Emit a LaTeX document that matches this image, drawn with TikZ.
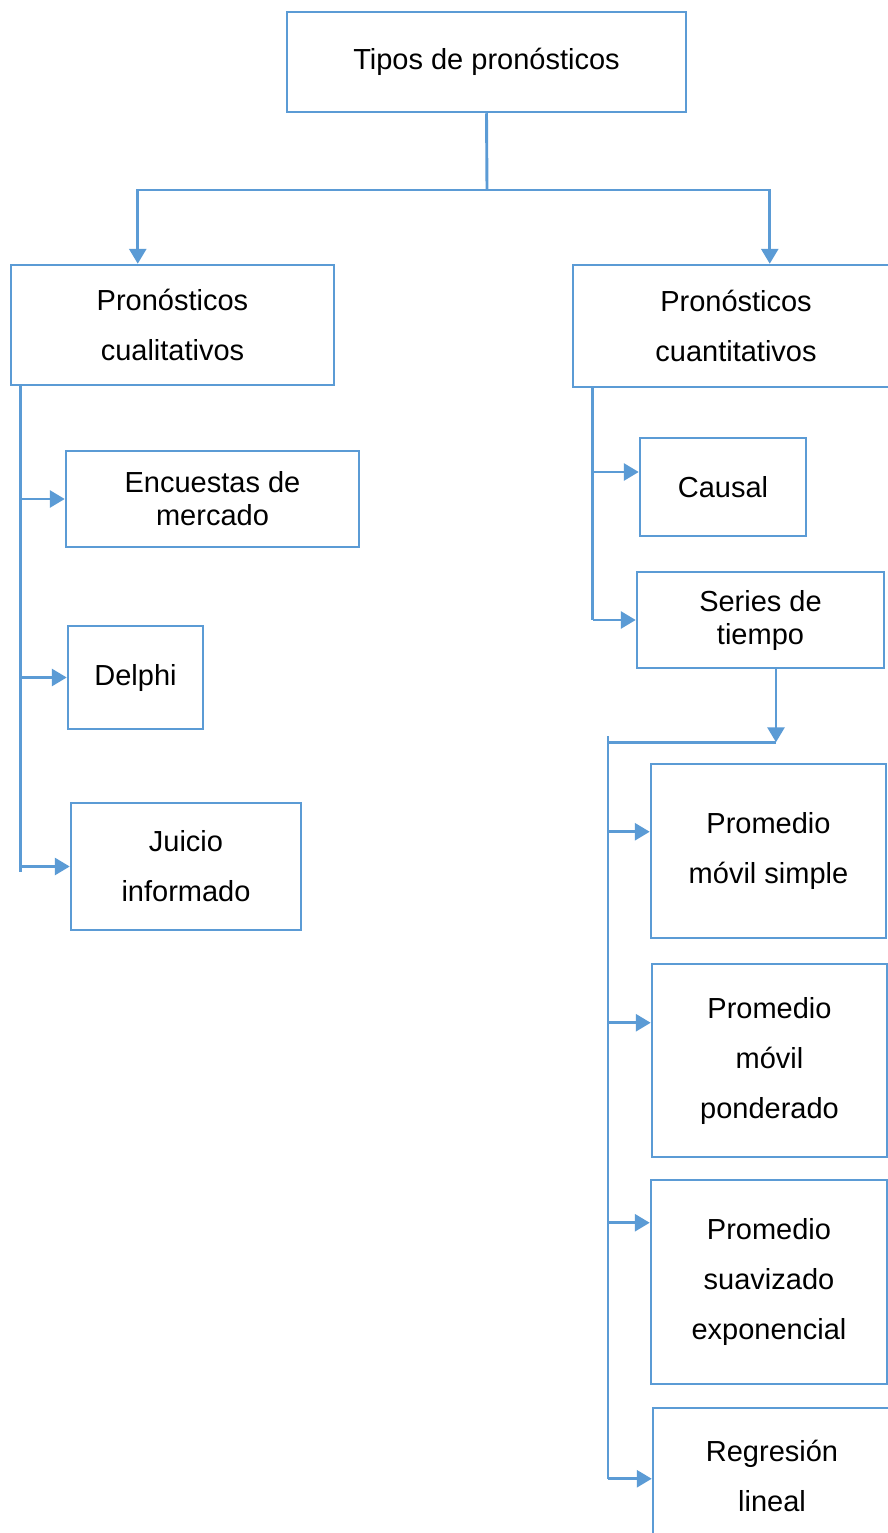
\documentclass[tikz,border=0pt]{standalone}
\usepackage{fontspec}
\setmainfont{Liberation Sans}
\usepackage{xcolor}
\usetikzlibrary{
    arrows.meta,
    positioning,
    calc
}
\definecolor{lineblue}{HTML}{5B9BD5}
\tikzset{
    % Box style
    box/.style={
        rectangle,
        draw=lineblue,
        fill=white,
        line width=2.5pt,
        inner sep=0pt,
        align=center,
        font=\fontsize{29}{50}\selectfont
    },
    % Tight two-line box
    tightbox/.style={
        box,
        font=\fontsize{29}{33}\selectfont
    },
    % Connector styles
    link/.style={
        draw=lineblue,
        line width=2.9pt
    },
    flow/.style={
        link,
        -{Triangle[length=15pt, width=17pt]}
    }
}
\begin{document}
\begin{tikzpicture}[x=1pt, y=-1pt]

        \useasboundingbox (0,0) rectangle (888,1533);
        \fill[white] (0,0) rectangle (888,1533);
        \clip (0,0) rectangle (888,1533);

        % Root
        \node[box, minimum width=399pt, minimum height=100pt] (tipos) at (486.5, 62) {Tipos de pronósticos};

        % Main branches
        \node[box, minimum width=323pt, minimum height=120pt] (cuali) at (172.5, 325) {Pronósticos\\cualitativos};
        \node[box, minimum width=326pt, minimum height=122pt] (cuanti) at (736, 326) {Pronósticos\\cuantitativos};

        % Qualitative methods
        \node[tightbox, minimum width=293pt, minimum height=96pt] (encuestas) at (212.5, 499) {Encuestas de\\mercado};
        \node[box, minimum width=135pt, minimum height=103pt] (delphi) at (135.5, 677.5) {Delphi};
        \node[box, minimum width=230pt, minimum height=127pt] (juicio) at (186, 866.5) {Juicio\\informado};

        % Quantitative methods
        \node[box, minimum width=166pt, minimum height=98pt] (causal) at (723, 487) {Causal};
        \node[tightbox, minimum width=247pt, minimum height=96pt] (series) at (760.5, 620) {Series de\\tiempo};

        % Time series methods
        \node[box, minimum width=235pt, minimum height=174pt] (simple) at (768.5, 851) {Promedio\\móvil simple};
        \node[box, minimum width=235pt, minimum height=193pt] (ponderado) at (769.5, 1060.5) {Promedio\\móvil\\ponderado};
        \node[box, minimum width=236pt, minimum height=204pt] (suavizado) at (769, 1282) {Promedio\\suavizado\\exponencial};
        \node[box, minimum width=238pt, minimum height=136pt] (regresion) at (772, 1476) {Regresión\\lineal};

        % Connections from root
        \coordinate (split) at (487, 190);
        \draw[link] (tipos.south) -- (split);
        \draw[flow] (split) -| ($(cuali.north west)+(128,0)$);
        \draw[flow] (split) -| ($(cuanti.north west)+(198,0)$);

        % Qualitative spine
        \coordinate (spineL) at ($(cuali.south west)+(11,0)$);
        \draw[link] (spineL) -- (spineL |- juicio.west) -- ++(0,5);
        \foreach \n in {encuestas, delphi, juicio} {
            \draw[flow] (spineL |- \n.west) -- (\n.west);
        }

        % Quantitative spine
        \coordinate (spineR) at ($(cuanti.south west)+(21,0)$);
        \coordinate (tcausal) at ($(causal.west)+(0,-15)$);
        \draw[link] (spineR) -- (spineR |- series.west);
        \draw[flow] (spineR |- tcausal) -- (tcausal);
        \draw[flow] (spineR |- series.west) -- (series.west);

        % Time series spine
        \coordinate (tsplit) at ($(series.south)+(15.5,73)$);
        \coordinate (spineS) at (608, 736);
        \draw[flow] ($(series.south)+(15.5,0)$) -- (tsplit);
        \draw[link] (tsplit) -- (spineS |- tsplit);
        \foreach \n/\d in {simple/69, ponderado/60, suavizado/44, regresion/72} {
            \path ($(\n.north west)+(0,\d)$) coordinate (t\n);
            \draw[flow] (spineS |- t\n) -- (t\n);
        }
        \draw[link] (spineS) -- (spineS |- tregresion);

    \end{tikzpicture}
\end{document}
